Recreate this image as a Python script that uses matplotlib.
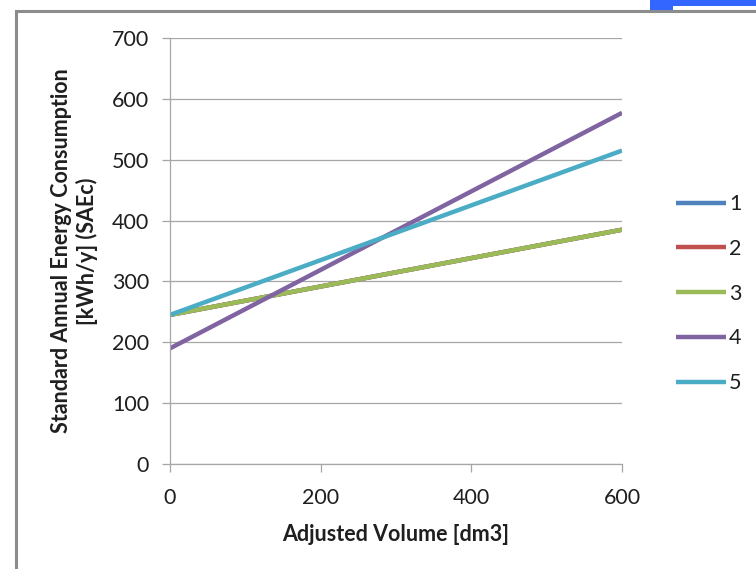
import matplotlib
matplotlib.use("Agg")
import matplotlib.pyplot as plt
import matplotlib.patches as patches

plt.rcParams["font.family"] = ["Lato", "DejaVu Sans"]

# Adjusted volume endpoints and SAEc values for each line
volume = [0, 600]
saec_1 = [245, 385]
saec_2 = [245, 385]
saec_3 = [245, 385]
saec_4 = [190, 577]
saec_5 = [245, 515]
series_labels = ["1", "2", "3", "4", "5"]

COLORS = ["#4F81BD", "#C0504D", "#9BBB59", "#8064A2", "#4BACC6"]
GRID = "#A6A6A6"
TEXT = "#1F1F1F"
FS = 15.5

fig = plt.figure(figsize=(7.56, 5.69), dpi=100)
ax = fig.add_axes([170 / 756, 1 - 464 / 569, 452 / 756, 426 / 569])

for ys, col, lbl in zip([saec_1, saec_2, saec_3, saec_4, saec_5], COLORS, series_labels):
    ax.plot(volume, ys, color=col, lw=3.2, solid_capstyle="butt", label=lbl)

ax.set_xlim(0, 600)
ax.set_ylim(0, 700)
ax.set_xticks([0, 200, 400, 600])
ax.set_yticks(range(0, 701, 100))
ax.grid(axis="y", color=GRID, lw=0.9)
ax.set_axisbelow(True)
for side in ["top", "right"]:
    ax.spines[side].set_visible(False)
for side in ["left", "bottom"]:
    ax.spines[side].set_color(GRID)
    ax.spines[side].set_linewidth(0.9)
ax.tick_params(axis="both", colors=GRID, length=6, width=0.9, labelcolor=TEXT,
               labelsize=FS)
ax.tick_params(axis="y", pad=9)
ax.tick_params(axis="x", pad=11)

ax.set_xlabel("Adjusted Volume [dm3]", fontsize=FS, fontweight="bold",
              color=TEXT, labelpad=12)
ax.set_ylabel("Standard Annual Energy Consumption\n[kWh/y] (SAEc)",
              fontsize=FS, fontweight="bold", color=TEXT, labelpad=10,
              linespacing=1.2)

leg = ax.legend(loc="center left", bbox_to_anchor=(1.12, 0.40), frameon=False,
                fontsize=FS, handlelength=2.3, handletextpad=0.15,
                labelspacing=1.15, borderpad=0, borderaxespad=0)
for t in leg.get_texts():
    t.set_color(TEXT)

# outer chart frame and the blue tab in the corner
fig.add_artist(patches.Rectangle((16 / 756, -0.05), 1.0, 1 - 11 / 569 + 0.05,
                                 transform=fig.transFigure, fill=False,
                                 edgecolor="#8C8C8C", lw=2.2))
fig.add_artist(patches.Rectangle((650 / 756, 1 - 10 / 569), 23 / 756, 10 / 569,
                                 transform=fig.transFigure, facecolor="#3366FF",
                                 edgecolor="none"))
fig.add_artist(patches.Rectangle((673 / 756, 1 - 6 / 569), 83 / 756, 6 / 569,
                                 transform=fig.transFigure, facecolor="#3366FF",
                                 edgecolor="none"))

fig.savefig("out.png", dpi=100, facecolor="white")
